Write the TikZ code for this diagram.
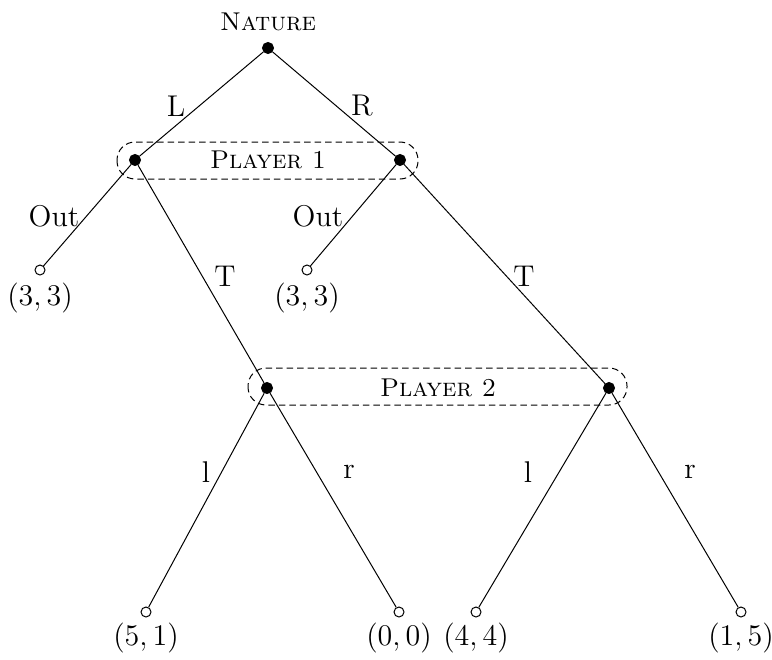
\documentclass[tikz,border=0pt]{standalone}
\begin{document}
\begin{tikzpicture}[x=0.4pt,y=-0.4pt,
  dec/.style={circle,fill=black,draw=black,inner sep=0pt,minimum size=4.4pt},
  leaf/.style={circle,fill=white,draw=black,inner sep=0pt,minimum size=4pt},
  infoset/.style={draw,dash pattern=on 2.6pt off 1.6pt,rounded corners=7.2pt},
  lab/.style={inner sep=0pt,font=\fontsize{12}{14}\selectfont},
  pay/.style={inner sep=0pt,font=\fontsize{11.6}{14}\selectfont},
  sc/.style={inner sep=1pt,font=\fontsize{10.3}{12}\selectfont},
  edge/.style={draw,line width=0.4pt}]
\useasboundingbox (0,0) rectangle (772,659);
% information sets
\draw[infoset] (117,142) rectangle (418,179);
\draw[infoset] (248,368) rectangle (627,405);
% nodes
\node[dec] (n0) at (268,48) {};
\node[dec] (p1a) at (135,160) {};
\node[dec] (p1b) at (400,160) {};
\node[leaf] (o1) at (40,270) {};
\node[leaf] (o2) at (307,270) {};
\node[dec] (p2a) at (267,388) {};
\node[dec] (p2b) at (609,388) {};
\node[leaf] (t1) at (146,612) {};
\node[leaf] (t2) at (399,612) {};
\node[leaf] (t3) at (476,612) {};
\node[leaf] (t4) at (741,612) {};
% edges
\path[edge] (n0) -- (p1a);
\path[edge] (n0) -- (p1b);
\path[edge] (p1a) -- (o1);
\path[edge] (p1a) -- (p2a);
\path[edge] (p1b) -- (o2);
\path[edge] (p1b) -- (p2b);
\path[edge] (p2a) -- (t1);
\path[edge] (p2a) -- (t2);
\path[edge] (p2b) -- (t3);
\path[edge] (p2b) -- (t4);
% texts
\node[sc] (nat) at (268,22) {\textsc{Nature}};
\node[sc] (pl1) at (268,160) {\textsc{Player 1}};
\node[sc] (pl2) at (438,388) {\textsc{Player 2}};
\node[lab] (lL) at (176,106) {L};
\node[lab] (lR) at (362,106) {R};
\node[lab] (lO1) at (54,216) {Out};
\node[lab] (lO2) at (318,216) {Out};
\node[lab] (lT1) at (225,276) {T};
\node[lab] (lT2) at (524,276) {T};
\node[lab] (ll1) at (206,472) {l};
\node[lab] (lr1) at (349,472) {r};
\node[lab] (ll2) at (528,472) {l};
\node[lab] (lr2) at (690,472) {r};
\node[pay] (v1) at (40,298) {$(3,3)$};
\node[pay] (v2) at (307,298) {$(3,3)$};
\node[pay] (v3) at (146,638) {$(5,1)$};
\node[pay] (v4) at (399,638) {$(0,0)$};
\node[pay] (v5) at (476,638) {$(4,4)$};
\node[pay] (v6) at (741,638) {$(1,5)$};
\end{tikzpicture}
\end{document}
